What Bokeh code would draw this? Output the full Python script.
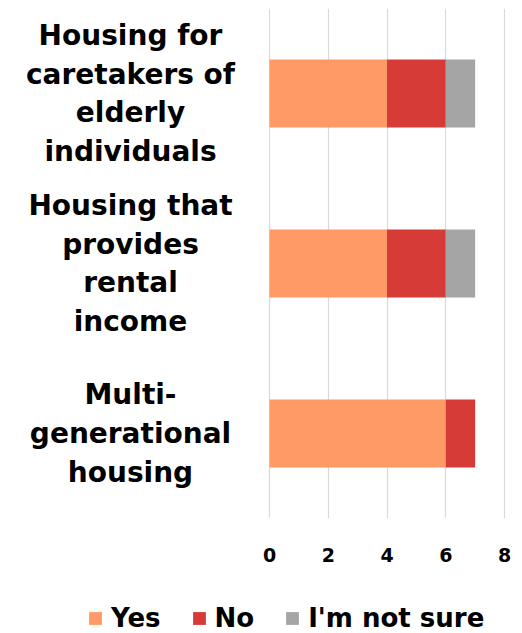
from bokeh.plotting import figure
from bokeh.layouts import column
from bokeh.models import FactorRange, Range1d, Label, Legend, LegendItem, FixedTicker
from bokeh.embed import file_html
from bokeh.resources import INLINE

categories = ["Housing for caretakers of elderly individuals",
              "Housing that provides rental income",
              "Multi-generational housing"]
label_texts = ["Housing for\ncaretakers of\nelderly\nindividuals",
               "Housing that\nprovides\nrental\nincome",
               "Multi-\ngenerational\nhousing"]
series = ["Yes", "No", "I'm not sure"]
yes = [4, 4, 6]
no = [2, 2, 1]
not_sure = [1, 1, 0]
colors = ["#FF9966", "#D63B37", "#A5A5A5"]
x_ticks = [0, 2, 4, 6, 8]

FONT = "DejaVu Sans"

factors = categories[::-1]
data = {"cat": categories, "Yes": yes, "No": no, "I'm not sure": not_sure}

# main chart: frame spans the full width; the value axis occupies its right part
p = figure(width=514, height=575, output_backend="svg", toolbar_location=None,
           y_range=FactorRange(factors=factors, range_padding=0),
           x_range=Range1d(-8.885, 8.34))
p.min_border_left = 8
p.min_border_right = 0
p.min_border_top = 8
p.min_border_bottom = 57
p.outline_line_color = None

p.hbar_stack(series, y="cat", height=0.4, color=colors, source=data, line_color=None)

p.yaxis.visible = False
p.ygrid.grid_line_color = None
p.xgrid.ticker = FixedTicker(ticks=x_ticks)
p.xgrid.grid_line_color = "#D9D9D9"
p.xgrid.grid_line_width = 1.2

p.xaxis.ticker = FixedTicker(ticks=x_ticks)
p.xaxis.axis_line_color = None
p.xaxis.major_tick_line_color = None
p.xaxis.minor_tick_line_color = None
p.xaxis.major_label_standoff = 23
p.xaxis.major_label_text_font = FONT
p.xaxis.major_label_text_font_style = "bold"
p.xaxis.major_label_text_font_size = "19px"
p.xaxis.major_label_text_color = "#000000"

for cat, txt in zip(categories, label_texts):
    # synthetic coordinate of the factor's centre on the categorical range
    ypos = factors.index(cat) + 0.5
    p.add_layout(Label(x=122, x_units="screen", y=ypos, text=txt,
                       text_align="center", text_baseline="middle",
                       text_font=FONT, text_font_style="bold",
                       text_font_size="28px", text_line_height=1.18,
                       text_color="#000000"))

# legend strip below the chart (its own plot, so the legend sits inside a frame)
lg = figure(width=514, height=58, output_backend="svg", toolbar_location=None,
            y_range=FactorRange(factors=factors), x_range=Range1d(-100, -90),
            x_axis_location=None, y_axis_location=None)
lg.min_border_left = 0
lg.min_border_right = 0
lg.min_border_top = 0
lg.min_border_bottom = 0
lg.outline_line_color = None
lg.grid.visible = False
lg_renderers = lg.hbar_stack(series, y="cat", height=0.4, color=colors, source=data,
                             line_color=None)

legend = Legend(items=[LegendItem(label=s, renderers=[r]) for s, r in zip(series, lg_renderers)],
                orientation="horizontal", location=(79, 0),
                label_text_font=FONT, label_text_font_style="bold",
                label_text_font_size="26px", label_text_color="#000000",
                glyph_width=16, glyph_height=16, label_standoff=8, spacing=30,
                border_line_color=None, background_fill_alpha=0, padding=0,
                margin=0)
lg.add_layout(legend, "center")

open("out.html", "w").write(file_html(column(p, lg, spacing=0), INLINE))
